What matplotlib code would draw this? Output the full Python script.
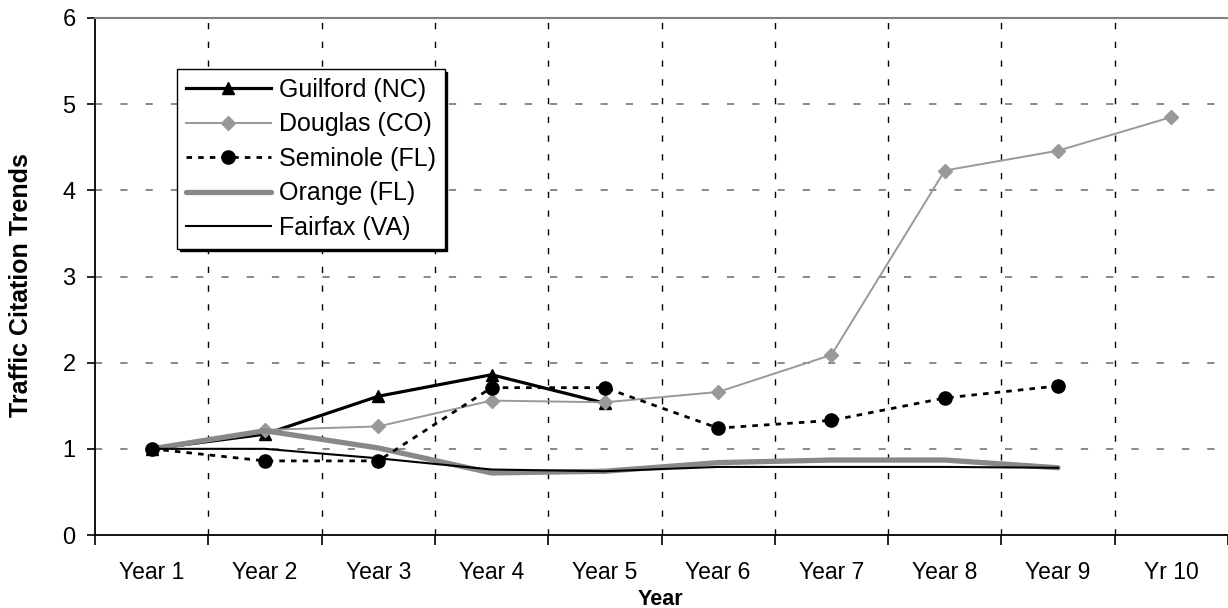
import matplotlib
matplotlib.use("Agg")
import matplotlib.pyplot as plt
import numpy as np

categories = ["Year 1", "Year 2", "Year 3", "Year 4", "Year 5", "Year 6",
              "Year 7", "Year 8", "Year 9", "Yr 10"]
guilford = [1.00, 1.17, 1.61, 1.86, 1.53]
douglas = [1.00, 1.22, 1.26, 1.56, 1.54, 1.66, 2.09, 4.23, 4.46, 4.85]
seminole = [1.00, 0.86, 0.86, 1.71, 1.71, 1.24, 1.33, 1.59, 1.73]
orange = [1.00, 1.21, 1.01, 0.72, 0.74, 0.84, 0.87, 0.87, 0.78]
fairfax = [1.00, 1.00, 0.89, 0.76, 0.74, 0.79, 0.79, 0.79, 0.78]
yticks = [0, 1, 2, 3, 4, 5, 6]

plt.rcParams['font.family'] = ['Liberation Sans', 'DejaVu Sans']

fig = plt.figure(figsize=(12.28, 6.08), dpi=100)
ax = fig.add_axes([95/1228, 1-535/608, 1-95/1228, (535-18)/608])

x = np.arange(1, len(categories) + 1)

ax.plot(x[:len(guilford)], guilford, color='black', lw=2.3, marker='^',
        ms=9, label='Guilford (NC)', zorder=3)
ax.plot(x[:len(douglas)], douglas, color='#999999', lw=1.4, marker='D',
        ms=7.5, mec='#999999', mfc='#999999', label='Douglas (CO)', zorder=4)
ax.plot(x[:len(seminole)], seminole, color='black', lw=2.0, ls=(0, (2, 2.2)),
        marker='o', ms=9.5, label='Seminole (FL)', zorder=7)
ax.plot(x[:len(orange)], orange, color='#888888', lw=3.8,
        label='Orange (FL)', zorder=5, solid_capstyle='round')
ax.plot(x[:len(fairfax)], fairfax, color='black', lw=1.5,
        label='Fairfax (VA)', zorder=6)

ax.set_xlim(0.5, len(categories) + 0.5)
ax.set_ylim(0, 6)
ax.set_yticks(yticks)
ax.set_xticks(x)
ax.set_xticklabels(categories, fontsize=16.5)
ax.set_xticks(np.arange(0.5, len(categories) + 1, 1), minor=True)
ax.tick_params(axis='x', which='major', length=0, pad=19)
ax.tick_params(axis='x', which='minor', length=7, width=1.2, direction='out')
ax.tick_params(axis='y', which='major', length=6, width=1.2, direction='out',
               labelsize=17, pad=8)

for yv in yticks[1:-1]:
    ax.axhline(yv, color='#808080', lw=1.3, ls=(0, (4, 10)), zorder=1)
for xv in np.arange(1.5, len(categories), 1):
    ax.axvline(xv, color='black', lw=1.0, ls=(0, (4.5, 9)), zorder=1)

ax.spines['right'].set_visible(False)
ax.spines['top'].set_color('#808080')
ax.spines['top'].set_linewidth(1.5)
ax.spines['left'].set_linewidth(1.3)
ax.spines['bottom'].set_linewidth(1.3)

ax.set_ylabel('Traffic Citation Trends', fontsize=18, fontweight='bold')
ax.yaxis.set_label_coords((33-95)/1133, (535-285)/517)
ax.set_xlabel('Year', fontsize=15.5, fontweight='bold')
ax.xaxis.set_label_coords((660-95)/1133, (535-589)/517)

leg = ax.legend(loc='upper left', bbox_to_anchor=((177-95)/1133, (535-69)/517),
                borderaxespad=0, fontsize=18, handlelength=3.4, labelspacing=0.42,
                frameon=True, fancybox=False, edgecolor='black',
                shadow={'color': 'black', 'alpha': 1.0}, borderpad=0.35,
                handletextpad=0.32)
leg.get_frame().set_linewidth(1.0)
leg.set_zorder(10)

fig.savefig('out.png', dpi=100)
